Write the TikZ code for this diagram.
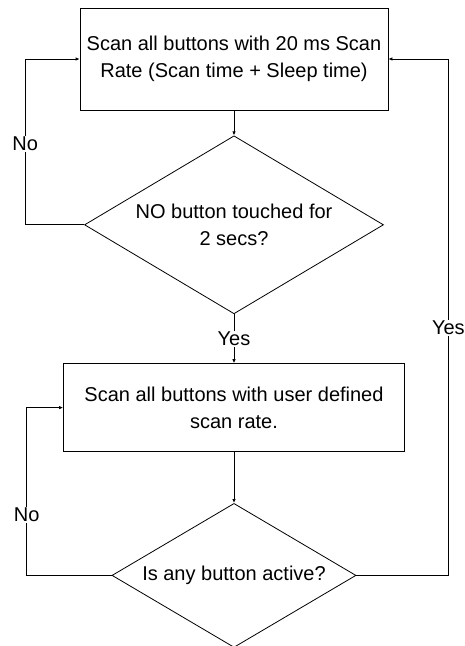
\documentclass[tikz,border=0pt]{standalone}
\usepackage{fontspec}
\setmainfont{Liberation Sans}
\usepackage{xcolor}
\usepackage{tikz}
\usetikzlibrary{shapes.geometric, arrows.meta, positioning, calc}

\begin{document}
\begin{tikzpicture}[
    x=1pt, y=-1pt,
    line width=0.8pt,
    box/.style={draw, minimum width=308pt, minimum height=102pt, align=center, font=\fontsize{20}{27}\selectfont},
    decision/.style={draw, diamond, inner sep=0pt, align=center, font=\fontsize{20}{27}\selectfont},
    lbl/.style={fill=white, inner sep=1pt, font=\fontsize{20}{24}\selectfont},
    arrow/.style={-{Latex[length=4pt,width=3.5pt]}}
]
    \useasboundingbox (0,0) rectangle (465,646);

    \node[box] (fastscan) at (234,59) {Scan all buttons with 20 ms Scan\\Rate (Scan time + Sleep time)};
    \node[decision, aspect=1.68, minimum width=299pt, minimum height=178pt, below=25pt of fastscan] (idle) {NO button touched for\\2 secs?};
    \node[box, minimum width=341pt, minimum height=88pt, below=49pt of idle] (userscan) {Scan all buttons with user defined\\scan rate.};
    \node[decision, aspect=1.69, minimum width=244pt, minimum height=144pt, below=51pt of userscan] (active) {Is any button active?};

    \draw[arrow] (fastscan) -- (idle);
    \draw[arrow] (idle) -- node[lbl] {Yes} (userscan);
    \draw[arrow] (userscan) -- (active);

    % loops back
    \draw[arrow] (idle.west) -- ++(-59,0) |- node[lbl, pos=0.245] {No} (fastscan.west);
    \draw[arrow] (active.west) -- ++(-85,0) |- node[lbl, pos=0.18] {No} (userscan.west);
    \draw[arrow] (active.east) -- ++(92,0) |- node[lbl, pos=0.24] {Yes} (fastscan.east);
\end{tikzpicture}
\end{document}
